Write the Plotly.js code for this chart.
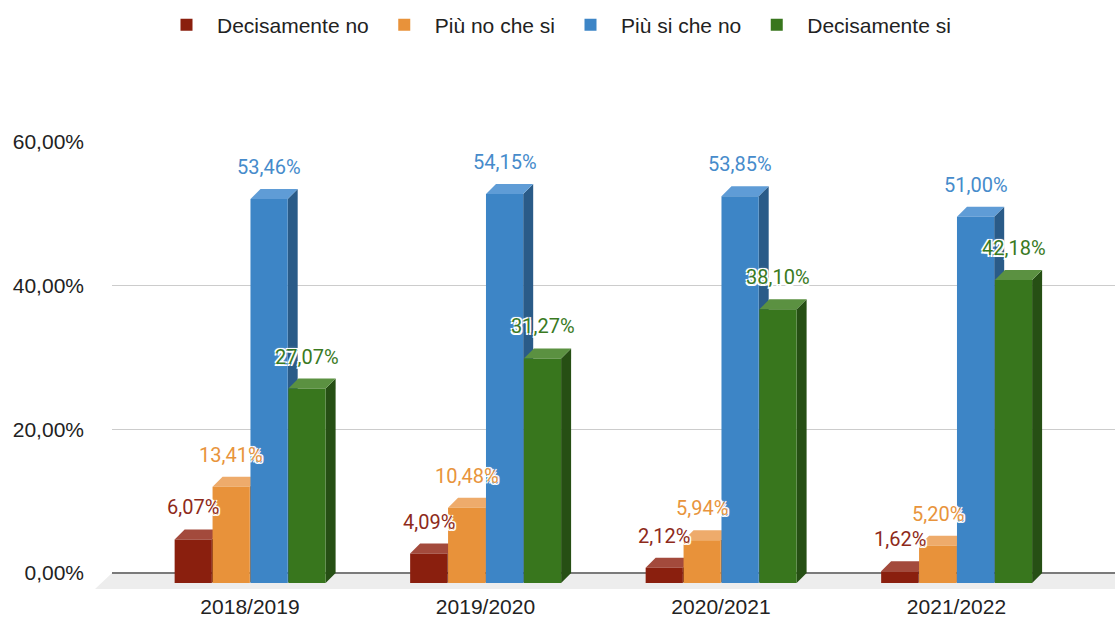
<!DOCTYPE html>
<html>
<head>
<meta charset="utf-8">
<script src="https://cdn.plot.ly/plotly-3.0.1.min.js"></script>
<style>
  html, body { margin: 0; padding: 0; background: #ffffff; }
  #chart { width: 1115px; height: 622px; }
</style>
</head>
<body>
<div id="chart"></div>
<script>
// ---- data ----
const categories = ['2018/2019', '2019/2020', '2020/2021', '2021/2022'];
const seriesNames = ['Decisamente no', 'Più no che si', 'Più si che no', 'Decisamente si'];
const decisamenteNo = [6.07, 4.09, 2.12, 1.62];
const piuNoCheSi = [13.41, 10.48, 5.94, 5.20];
const piuSiCheNo = [53.46, 54.15, 53.85, 51.00];
const decisamenteSi = [27.07, 31.27, 38.10, 42.18];
const yTickValues = [0, 20, 40, 60];
const yTickLabels = ['0,00%', '20,00%', '40,00%', '60,00%'];

// ---- styling ----
const frontColors = ['#8a1f0e', '#e8923a', '#3d85c6', '#38761d'];
const topColors = ['#a34a3c', '#eeab6b', '#5f9cd6', '#5b9141'];
const sideColors = ['#64160a', '#b46e29', '#2a5b88', '#264f14'];
const labelColors = ['#8e2a1a', '#e8943c', '#468bcb', '#3a7a1f'];

const W = 1115, H = 622;
const M = { l: 112, r: 0, t: 142, b: 39 };
const plotW = W - M.l - M.r, plotH = H - M.t - M.b;
const depth = 10; // pseudo-3D depth in px
const X_RANGE = [-0.586, 3.673];
const Y_TOP = 60;
const pxPerX = plotW / (X_RANGE[1] - X_RANGE[0]);
const pxPerY = (plotH - depth) / Y_TOP;
const dX = depth / pxPerX, dY = depth / pxPerY;
const Y_RANGE = [-dY, Y_TOP];   // wall baseline at 0, front baseline at -dY
const BAR_W = 0.158, STRIDE = 0.161, FIRST = -0.32;

const series = [decisamenteNo, piuNoCheSi, piuSiCheNo, decisamenteSi];
const idx = categories.map((_, i) => i);
const fmt = v => v.toFixed(2).replace('.', ',') + '%';

// front faces: bars starting at the front baseline, length = value
const traces = series.map((vals, k) => ({
  type: 'bar',
  name: seriesNames[k],
  x: idx,
  y: vals,
  base: idx.map(() => -dY),
  width: BAR_W,
  offset: FIRST + k * STRIDE,
  marker: { color: frontColors[k], line: { width: 0 } },
  hovertemplate: seriesNames[k] + ': %{y:.2f}%<extra></extra>'
}));

const shapes = [];
// floor band under the bars
const floorTop = depth / plotH;
shapes.push({
  type: 'path', xref: 'paper', yref: 'paper', layer: 'below',
  path: `M0,${floorTop} L1,${floorTop} L1,${-6 / plotH} L${-17 / plotW},${-6 / plotH} Z`,
  fillcolor: '#ededed', line: { width: 0 }
});
// 3D faces (side + top) computed from the data
idx.forEach(i => {
  series.forEach((vals, k) => {
    const v = vals[i];
    const xl = i + FIRST + k * STRIDE;
    const xr = xl + BAR_W;
    const yf = v - dY;
    shapes.push({
      type: 'path', xref: 'x', yref: 'y', layer: 'between',
      path: `M${xr},${-dY} L${xr},${yf} L${xr + dX},${v} L${xr + dX},0 Z`,
      fillcolor: sideColors[k], line: { width: 0 }
    });
    shapes.push({
      type: 'path', xref: 'x', yref: 'y', layer: 'between',
      path: `M${xl},${yf} L${xr},${yf} L${xr + dX},${v} L${xl + dX},${v} Z`,
      fillcolor: topColors[k], line: { width: 0 }
    });
  });
});

const halo = '-1.5px -1.5px 0 #fff, 1.5px -1.5px 0 #fff, -1.5px 1.5px 0 #fff, 1.5px 1.5px 0 #fff, 0 0 3px #fff';
const annotations = [];
idx.forEach(i => {
  series.forEach((vals, k) => {
    annotations.push({
      xref: 'x', yref: 'y',
      x: i + FIRST + k * STRIDE + BAR_W / 2,
      y: vals[i] - dY,
      yshift: 32,
      xanchor: 'center', yanchor: 'middle',
      showarrow: false,
      text: fmt(vals[i]),
      font: { family: 'Roboto, Arial, sans-serif', size: 20, color: labelColors[k], shadow: halo }
    });
  });
});

const axisFont = { family: '"Liberation Sans", Arial, Helvetica, sans-serif', size: 21, color: '#222222' };

const layout = {
  width: W, height: H,
  margin: M,
  paper_bgcolor: '#ffffff',
  plot_bgcolor: 'rgba(0,0,0,0)',
  barmode: 'overlay',
  showlegend: true,
  legend: {
    orientation: 'h', x: (156 - M.l) / plotW, xanchor: 'left',
    y: (plotH + M.t - 25) / plotH, yanchor: 'middle',
    font: axisFont, itemwidth: 51, traceorder: 'normal'
  },
  xaxis: {
    range: X_RANGE, domain: [0, 1], anchor: 'y',
    tickmode: 'array', tickvals: idx, ticktext: categories,
    showgrid: false, zeroline: false, showline: false, ticks: '',
    tickfont: axisFont, ticklabelstandoff: 9, fixedrange: true
  },
  yaxis: {
    range: Y_RANGE, domain: [0, 1], anchor: 'x',
    tickmode: 'array', tickvals: yTickValues, ticktext: yTickLabels,
    showgrid: true, gridcolor: '#cccccc', gridwidth: 1,
    zeroline: true, zerolinecolor: '#7a7a7a', zerolinewidth: 2,
    showline: false, ticks: '', tickfont: axisFont, ticklabelstandoff: 27, fixedrange: true
  },
  shapes: shapes,
  annotations: annotations
};

Plotly.newPlot('chart', traces, layout, { displayModeBar: false, staticPlot: true });
</script>
</body>
</html>
